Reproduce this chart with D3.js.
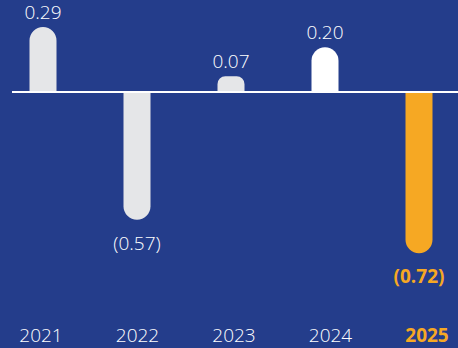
<!DOCTYPE html>
<html><head><meta charset="utf-8">
<script src="https://cdn.jsdelivr.net/npm/d3@7/dist/d3.min.js"></script>
<style>html,body{margin:0;padding:0;background:#243d8b;}svg{display:block;}</style>
</head><body>
<svg id="c" width="458" height="348"></svg>
<script>
const years = ["2021","2022","2023","2024","2025"];
const values = [0.29, -0.57, 0.07, 0.20, -0.72];
const valueLabels = ["0.29","(0.57)","0.07","0.20","(0.72)"];
const barColors = ["#e5e6e8","#e5e6e8","#e5e6e8","#ffffff","#f6a823"];
const labelColors = ["#ffffff","#ffffff","#ffffff","#ffffff","#f6a823"];
const labelWeights = ["350","350","350","350","700"];

const W = 458, H = 348, baseY = 92, ppu = 224;
const svg = d3.select("#c");
svg.append("rect").attr("width", W).attr("height", H).attr("fill", "#243d8b");

const x = d3.scalePoint().domain(years).range([43, 419]);
const xl = d3.scalePoint().domain(years).range([41, 427]);
const y = d3.scaleLinear().domain([0, 1]).range([baseY, baseY - ppu]);
const bw = 27;
const data = years.map((yr, i) => ({yr, v: values[i], lab: valueLabels[i], col: barColors[i], lc: labelColors[i], fw: labelWeights[i]}));

function barPath(d) {
  const x0 = x(d.yr) - bw / 2, x1 = x(d.yr) + bw / 2;
  const y0 = y(0), y1 = y(d.v);
  const h = Math.abs(y1 - y0);
  const r = Math.min(bw / 2, h / 2);
  if (d.v >= 0) {
    return `M${x0},${y0}L${x0},${y1 + r}A${r},${r} 0 0 1 ${x0 + r},${y1}L${x1 - r},${y1}A${r},${r} 0 0 1 ${x1},${y1 + r}L${x1},${y0}Z`;
  } else {
    return `M${x0},${y0}L${x0},${y1 - r}A${r},${r} 0 0 0 ${x0 + r},${y1}L${x1 - r},${y1}A${r},${r} 0 0 0 ${x1},${y1 - r}L${x1},${y0}Z`;
  }
}

svg.selectAll("path.bar").data(data).join("path").attr("class", "bar")
  .attr("d", barPath).attr("fill", d => d.col);

svg.append("line").attr("x1", 12).attr("x2", W).attr("y1", y(0)).attr("y2", y(0))
  .attr("stroke", "#ffffff").attr("stroke-width", 2);

svg.selectAll("text.val").data(data).join("text").attr("class", "val")
  .attr("x", d => x(d.yr))
  .attr("y", d => d.v >= 0 ? y(d.v) - 8 : y(d.v) + 30)
  .attr("text-anchor", "middle")
  .attr("font-family", "'Open Sans', sans-serif")
  .attr("font-size", 19)
  .attr("font-weight", d => d.fw)
  .attr("fill", d => d.lc)
  .text(d => d.lab);

svg.selectAll("text.yr").data(data).join("text").attr("class", "yr")
  .attr("x", d => xl(d.yr))
  .attr("y", 342)
  .attr("text-anchor", "middle")
  .attr("font-family", "'Open Sans', sans-serif")
  .attr("font-size", 19)
  .attr("font-weight", d => d.fw)
  .attr("fill", d => d.lc)
  .text(d => d.yr);
</script>
</body></html>
